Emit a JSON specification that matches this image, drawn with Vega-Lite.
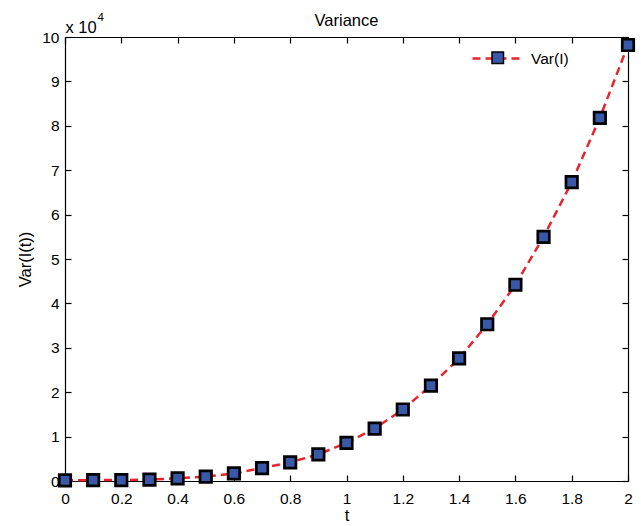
{
  "$schema": "https://vega.github.io/schema/vega-lite/v6.json",
  "autosize": "none",
  "width": 563,
  "height": 444,
  "padding": {"left": 65, "top": 37, "right": 13, "bottom": 45},
  "background": "white",
  "title": {
    "text": "Variance",
    "font": "Liberation Sans",
    "fontSize": 16.5,
    "fontWeight": "normal",
    "color": "black",
    "baseline": "alphabetic",
    "offset": -31
  },
  "config": {
    "view": {"stroke": null},
    "font": "Liberation Sans",
    "axis": {
      "grid": false,
      "domainColor": "black",
      "domainWidth": 1.2,
      "tickColor": "black",
      "tickWidth": 1.2,
      "tickSize": -6,
      "labelColor": "black",
      "labelFont": "Liberation Sans",
      "labelFontSize": 15.5,
      "labelFlush": false,
      "labelOverlap": false,
      "titleColor": "black",
      "titleFont": "Liberation Sans",
      "titleFontSize": 16.5,
      "titleFontWeight": "normal"
    },
    "legend": {
      "padding": 0,
      "labelFont": "Liberation Sans",
      "labelFontSize": 15.5,
      "labelColor": "black"
    }
  },
  "data": {
    "values": [
      {"t": 0.0, "v": 150},
      {"t": 0.1, "v": 200},
      {"t": 0.2, "v": 200},
      {"t": 0.3, "v": 300},
      {"t": 0.4, "v": 600},
      {"t": 0.5, "v": 1000},
      {"t": 0.6, "v": 1700},
      {"t": 0.7, "v": 2900},
      {"t": 0.8, "v": 4200},
      {"t": 0.9, "v": 6000},
      {"t": 1.0, "v": 8600},
      {"t": 1.1, "v": 11800},
      {"t": 1.2, "v": 16100},
      {"t": 1.3, "v": 21500},
      {"t": 1.4, "v": 27600},
      {"t": 1.5, "v": 35300},
      {"t": 1.6, "v": 44200},
      {"t": 1.7, "v": 55000},
      {"t": 1.8, "v": 67300},
      {"t": 1.9, "v": 81800},
      {"t": 2.0, "v": 98200}
    ]
  },
  "layer": [
    {
      "mark": {"type": "line", "strokeWidth": 2.5, "strokeDash": [8, 5]},
      "encoding": {
        "x": {
          "field": "t",
          "type": "quantitative",
          "scale": {"domain": [0, 2], "nice": false, "zero": false},
          "axis": {
            "orient": "bottom",
            "values": [0, 0.2, 0.4, 0.6, 0.8, 1, 1.2, 1.4, 1.6, 1.8, 2],
            "format": "~g",
            "labelPadding": 16,
            "title": "t",
            "titlePadding": 1
          }
        },
        "y": {
          "field": "v",
          "type": "quantitative",
          "scale": {"domain": [0, 100000], "nice": false},
          "axis": {
            "orient": "left",
            "values": [0, 10000, 20000, 30000, 40000, 50000, 60000, 70000, 80000, 90000, 100000],
            "labelExpr": "format(datum.value / 10000, '~g')",
            "labelPadding": 12,
            "title": "Var(I(t))",
            "titlePadding": 8
          }
        },
        "color": {
          "datum": "Var(I)",
          "scale": {"range": ["#E8232B"]},
          "legend": {
            "orient": "none",
            "legendX": 406,
            "legendY": -6,
            "title": null,
            "symbolType": "stroke",
            "symbolSize": 2704,
            "symbolStrokeWidth": 2.5,
            "symbolDash": [8, 5],
            "labelOffset": 5
          }
        }
      }
    },
    {
      "mark": {
        "type": "point",
        "shape": "square",
        "filled": true,
        "fill": "#3A58A8",
        "stroke": "black",
        "strokeWidth": 2.7,
        "size": 132,
        "opacity": 1
      },
      "encoding": {
        "x": {
          "field": "t",
          "type": "quantitative",
          "axis": {
            "orient": "top",
            "values": [0, 0.2, 0.4, 0.6, 0.8, 1, 1.2, 1.4, 1.6, 1.8, 2],
            "labels": false,
            "title": "4",
            "titleAngle": 0,
            "titleAlign": "left",
            "titleBaseline": "alphabetic",
            "titleFontSize": 11.5,
            "titleX": 32,
            "titleY": -17
          }
        },
        "y": {
          "field": "v",
          "type": "quantitative",
          "axis": {
            "orient": "right",
            "values": [0, 10000, 20000, 30000, 40000, 50000, 60000, 70000, 80000, 90000, 100000],
            "labels": false,
            "title": "x 10",
            "titleAngle": 0,
            "titleAlign": "left",
            "titleBaseline": "alphabetic",
            "titleFontSize": 16.5,
            "titleX": -563,
            "titleY": -5
          }
        },
        "shape": {
          "datum": "marker",
          "scale": {"range": ["square"]},
          "legend": {
            "orient": "none",
            "legendX": 425,
            "legendY": 13,
            "title": null,
            "symbolType": "square",
            "symbolSize": 132,
            "labelExpr": "''",
            "encode": {
              "symbols": {
                "update": {
                  "fill": {"value": "#3A58A8"},
                  "stroke": {"value": "black"},
                  "strokeWidth": {"value": 2.7},
                  "opacity": {"value": 1}
                }
              }
            }
          }
        }
      }
    }
  ],
  "resolve": {"axis": {"x": "independent", "y": "independent"}}
}
